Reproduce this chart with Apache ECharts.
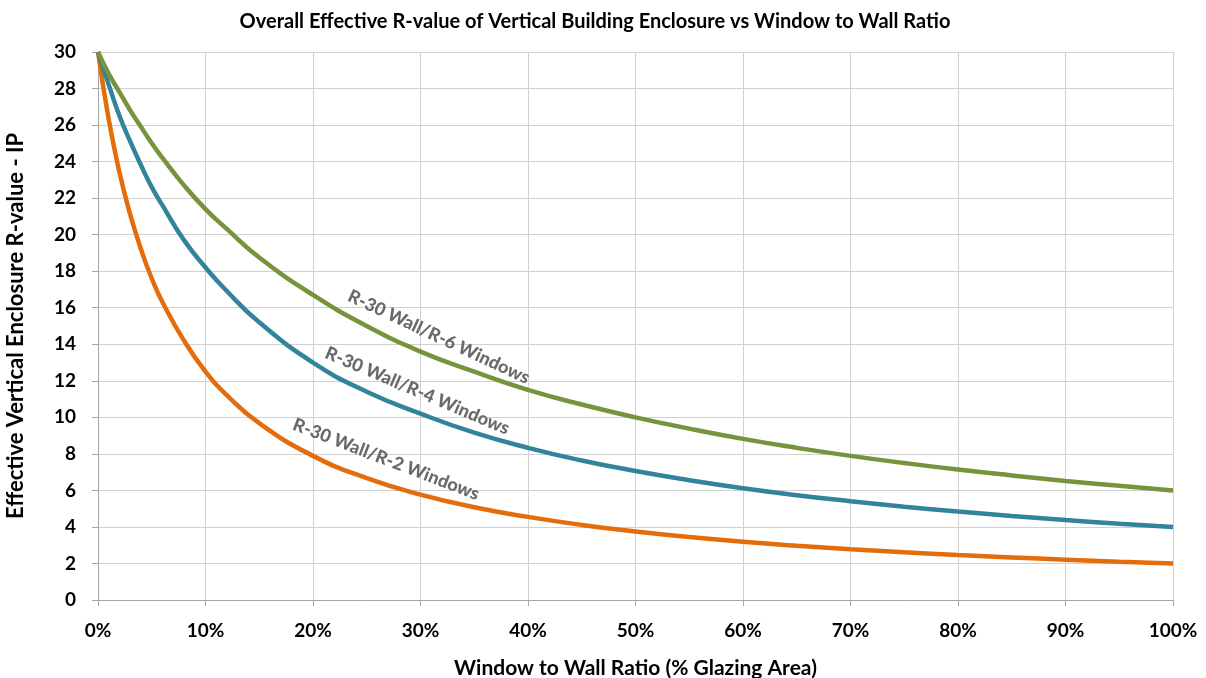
<!DOCTYPE html>
<html>
<head>
<meta charset="utf-8">
<script src="https://cdn.jsdelivr.net/npm/echarts@6/dist/echarts.min.js"></script>
<style>
  html, body { margin: 0; padding: 0; background: #fff; }
  #chart { width: 1206px; height: 678px; }
</style>
</head>
<body>
<div id="chart"></div>
<script>
// Window-to-wall ratio (fraction of glazing area)
const wwr = [0, 0.01, 0.02, 0.03, 0.04, 0.05, 0.06, 0.08, 0.10, 0.12, 0.15, 0.20, 0.25, 0.30, 0.35,
             0.40, 0.45, 0.50, 0.55, 0.60, 0.65, 0.70, 0.75, 0.80, 0.85, 0.90, 0.95, 1.00];

// Effective R-value (IP) for each wall/window combination
const rWin6 = [30, 28.8, 27.8, 26.8, 25.9, 25.0, 24.2, 22.7, 21.4, 20.3, 18.75, 16.7, 15.0, 13.6, 12.5,
               11.5, 10.7, 10.0, 9.38, 8.82, 8.33, 7.89, 7.5, 7.14, 6.82, 6.52, 6.25, 6.0];
const rWin4 = [30, 28.2, 26.5, 25.1, 23.8, 22.6, 21.6, 19.7, 18.2, 16.9, 15.2, 13.0, 11.4, 10.2, 9.16,
               8.33, 7.64, 7.06, 6.56, 6.12, 5.74, 5.41, 5.11, 4.84, 4.60, 4.38, 4.18, 4.0];
const rWin2 = [30, 26.3, 23.4, 21.1, 19.2, 17.6, 16.3, 14.2, 12.5, 11.2, 9.68, 7.89, 6.67, 5.77, 5.08,
               4.55, 4.11, 3.75, 3.45, 3.19, 2.97, 2.78, 2.61, 2.46, 2.33, 2.21, 2.10, 2.0];

const seriesNames = ['R-30 Wall/R-6 Windows', 'R-30 Wall/R-4 Windows', 'R-30 Wall/R-2 Windows'];
const seriesColors = ['#77933C', '#31849B', '#E46C0A'];
// Curve label anchor [wwr, R] and rotation in degrees
const labelAnchors = [[0.317, 14.4], [0.297, 11.45], [0.268, 7.7]];
const labelAngles = [-25, -23, -21];

const FONT = 'Lato, "Open Sans", sans-serif';
const chart = echarts.init(document.getElementById('chart'));

function pairs(ys) { return wwr.map((x, i) => [x, ys[i]]); }

const allValues = [rWin6, rWin4, rWin2];
const series = allValues.map((ys, i) => ({
  name: seriesNames[i],
  type: 'line',
  data: pairs(ys),
  smooth: true,
  showSymbol: false,
  lineStyle: { color: seriesColors[i], width: 4.5 },
  itemStyle: { color: seriesColors[i] },
  z: 3 - i,
  markPoint: {
    symbol: 'circle',
    symbolSize: 1,
    silent: true,
    itemStyle: { color: 'rgba(0,0,0,0)' },
    data: [{ coord: labelAnchors[i], value: 0 }],
    label: {
      show: true,
      formatter: seriesNames[i],
      rotate: labelAngles[i],
      color: '#6a6a6a',
      fontFamily: FONT,
      fontWeight: 900,
      fontSize: 18,
      align: 'center',
      verticalAlign: 'middle',
      position: 'inside'
    }
  }
}));

chart.setOption({
  animation: false,
  backgroundColor: '#fff',
  title: {
    text: 'Overall Effective R-value of Vertical Building Enclosure vs Window to Wall Ratio',
    left: 590, top: 7, textAlign: 'center',
    textStyle: { fontFamily: FONT, fontWeight: 'bold', fontSize: 20, color: '#000' }
  },
  grid: { left: 98, right: 33, top: 52, bottom: 78, outerBoundsMode: 'none', containLabel: false },
  xAxis: {
    type: 'value', min: 0, max: 1, interval: 0.1,
    name: 'Window to Wall Ratio (% Glazing Area)',
    nameLocation: 'middle', nameGap: 58,
    nameTextStyle: { fontFamily: FONT, fontWeight: 'bold', fontSize: 21, color: '#000' },
    axisLine: { lineStyle: { color: '#a6a6a6', width: 1 } },
    axisTick: { show: true, length: 6, lineStyle: { color: '#a6a6a6' } },
    axisLabel: {
      formatter: v => Math.round(v * 100) + '%',
      fontFamily: FONT, fontWeight: 'bold', fontSize: 19, color: '#000', margin: 21
    },
    splitLine: { show: true, lineStyle: { color: '#d0d0d0', width: 1 } }
  },
  yAxis: {
    type: 'value', min: 0, max: 30, interval: 2,
    name: 'Effective Vertical Enclosure R-value - IP',
    nameLocation: 'middle', nameGap: 71, nameRotate: 90,
    nameTextStyle: { fontFamily: FONT, fontWeight: 'bold', fontSize: 22, color: '#000' },
    axisLine: { show: true, lineStyle: { color: '#a6a6a6', width: 1 } },
    axisTick: { show: true, length: 6, lineStyle: { color: '#a6a6a6' } },
    axisLabel: { fontFamily: FONT, fontWeight: 'bold', fontSize: 19, color: '#000', margin: 22 },
    splitLine: { show: true, lineStyle: { color: '#d0d0d0', width: 1 } }
  },
  series: series
});
</script>
</body>
</html>
